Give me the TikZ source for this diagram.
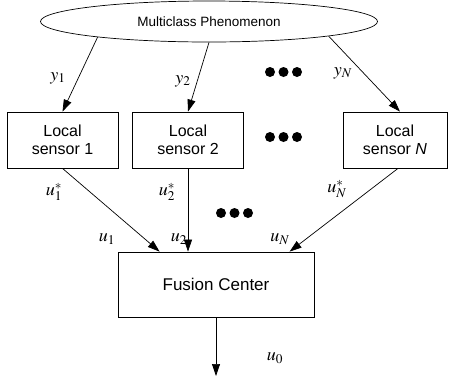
\documentclass[tikz,border=0pt]{standalone}
\usepackage{mathptmx}
\usepackage[no-math]{fontspec}
\setmainfont{Liberation Sans}
\usetikzlibrary{shapes.geometric,arrows.meta,calc}
\begin{document}
\begin{tikzpicture}[x=1pt,y=-1pt,
  box/.style={draw,line width=0.8pt,inner sep=0pt,align=center,font=\fontsize{16}{18}\selectfont},
  arr/.style={line width=0.7pt,-{Triangle[length=12pt,width=8pt]}},
  lab/.style={inner sep=0pt,font=\fontsize{18}{18}\selectfont},
  dot/.style={fill=black}]
\useasboundingbox (0,0) rectangle (452,376);
\node[ellipse,draw,line width=0.7pt,minimum width=337,minimum height=41,inner sep=0pt,font=\fontsize{13.5}{14}\selectfont] (phen) at (209,21.5) {Multiclass Phenomenon};
\node[box,minimum width=111,minimum height=56] (s1) at (62.5,140) {Local\\sensor 1};
\node[box,minimum width=111,minimum height=56] (s2) at (188,140) {Local\\sensor 2};
\node[box,minimum width=104,minimum height=56] (s3) at (395,140) {Local\\sensor \textit{N}};
\node[box,minimum width=196,minimum height=65,font=\fontsize{17}{18}\selectfont] (fc) at (216,284.5) {Fusion Center};
\coordinate (out) at (216,376);
% dots
\foreach \y in {72,137} {\foreach \x in {270,283.5,297} {\fill[dot] (\x,\y) circle (5);}}
\foreach \x in {221,234.5,248} {\fill[dot] (\x,213) circle (5);}
% arrows
\draw[arr] (phen.188) -- (s1.north);
\draw[arr] (phen.south) -- (s2.north);
\draw[arr] (phen.353.5) -- ($(s3.north)+(5,0)$);
\draw[arr] (s1.south) -- ($(fc.north west)+(42,0)$);
\draw[arr] (s2.south) -- (s2.south |- fc.north);
\draw[arr] ($(s3.south)+(3,0)$) -- ($(fc.north west)+(172,0)$);
\draw[arr] (fc.south) -- (out);
% labels
\node[lab] (ly1) at (58,78) {$y_1$};
\node[lab] (ly2) at (183,81) {$y_2$};
\node[lab] (lyN) at (343,73) {$y_N$};
\node[lab] (lu1s) at (54,192) {$u_1^*$};
\node[lab] (lu2s) at (167,192) {$u_2^*$};
\node[lab] (luNs) at (337,189) {$u_N^*$};
\node[lab] (lu1) at (107,239) {$u_1$};
\node[lab] (lu2) at (179,239) {$u_2$};
\node[lab] (luN) at (280,239) {$u_N$};
\node[lab] (lu0) at (275,358) {$u_0$};
\end{tikzpicture}
\end{document}
